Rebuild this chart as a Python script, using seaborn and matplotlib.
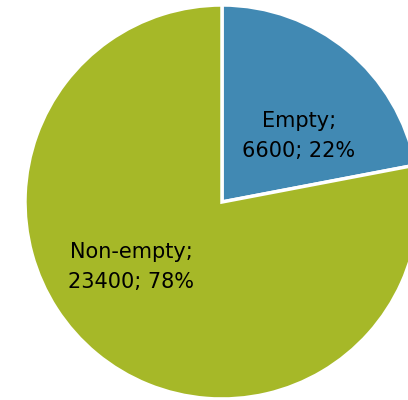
import matplotlib
matplotlib.use("Agg")
import matplotlib.pyplot as plt
import seaborn as sns

categories = ["Empty", "Non-empty"]
counts = [6600, 23400]
colors = ["#4189B3", "#A6B828"]

sns.set_theme(style="white")
plt.rcParams["font.family"] = ["DejaVu Sans"]

W, H = 408, 400
fig = plt.figure(figsize=(W / 100, H / 100), dpi=100)
ax = fig.add_axes([0, 0, 1, 1])

cx, cy, r = 222, 202, 197
ax.pie(counts, colors=colors, startangle=90, counterclock=False,
       radius=1.0, center=(0, 0),
       wedgeprops=dict(edgecolor="white", linewidth=2.5))

ax.set_aspect("auto")
ax.set_xlim(-cx / r, (W - cx) / r)
ax.set_ylim(-(H - cy) / r, cy / r)
ax.axis("off")

total = sum(counts)
label_pos = [(0.39, 0.335), (-0.46, -0.33)]
for name, val, (lx, ly) in zip(categories, counts, label_pos):
    pct = round(100 * val / total)
    ax.text(lx, ly, f"{name};\n{val}; {pct}%", ha="center", va="center",
            fontsize=15, color="black", linespacing=1.6)

fig.savefig("out.png", dpi=100)
